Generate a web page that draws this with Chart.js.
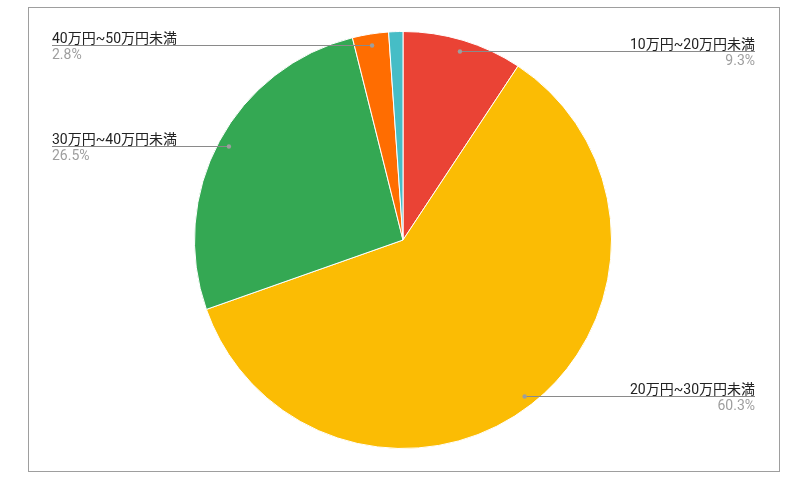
<!DOCTYPE html>
<html>
<head>
<meta charset="utf-8">
<script src="https://cdn.jsdelivr.net/npm/chart.js@4/dist/chart.umd.min.js"></script>
<style>
  html, body { margin: 0; padding: 0; background: #fff; }
  #wrap { width: 810px; height: 486px; position: relative; }
</style>
</head>
<body>
<div id="wrap"><canvas id="chart"></canvas></div>
<script>
const categories = ["10万円~20万円未満", "20万円~30万円未満", "30万円~40万円未満", "40万円~50万円未満", "50万円以上"];
const shares = [9.3, 60.3, 26.5, 2.8, 1.1];
const sliceColors = ["#ea4335", "#fbbc04", "#34a853", "#ff6d01", "#46bdc6"];

const fontFamily = "Roboto, Arial, 'Noto Sans CJK JP', sans-serif";

// frame + leader lines with labels, like the sheets export
const calloutPlugin = {
  id: "callouts",
  beforeDraw(chart) {
    const ctx = chart.ctx;
    ctx.save();
    ctx.strokeStyle = "#9e9e9e";
    ctx.lineWidth = 1;
    ctx.strokeRect(28.5, 7.5, 751, 464);
    ctx.restore();
  },
  afterDatasetsDraw(chart) {
    const ctx = chart.ctx;
    const meta = chart.getDatasetMeta(0);
    ctx.save();
    meta.data.forEach((arc, i) => {
      if (shares[i] < 2) return; // tiny slice has no label
      const p = arc.getProps(["startAngle", "endAngle", "outerRadius", "x", "y"], true);
      const mid = (p.startAngle + p.endAngle) / 2;
      const r = p.outerRadius * 0.948;
      const dx = p.x + Math.cos(mid) * r;
      const dy = p.y + Math.sin(mid) * r;
      const left = dx < p.x;
      const endX = left ? 52 : 755;
      const ly = Math.round(dy) + 0.5;

      ctx.strokeStyle = "#8a8a8a";
      ctx.lineWidth = 1;
      ctx.beginPath();
      ctx.moveTo(dx, ly);
      ctx.lineTo(endX, ly);
      ctx.stroke();

      ctx.fillStyle = "#9e9e9e";
      ctx.beginPath();
      ctx.arc(dx, ly, 2.2, 0, Math.PI * 2);
      ctx.fill();

      ctx.font = "14px " + fontFamily;
      ctx.textAlign = left ? "left" : "right";
      ctx.textBaseline = "alphabetic";
      ctx.fillStyle = "#222222";
      ctx.fillText(categories[i], endX, ly - 3);
      ctx.fillStyle = "#9e9e9e";
      ctx.textBaseline = "top";
      ctx.fillText(shares[i].toFixed(1) + "%", endX, ly + 3);
    });
    ctx.restore();
  }
};

new Chart(document.getElementById("chart"), {
  type: "pie",
  data: {
    labels: categories,
    datasets: [{
      data: shares,
      backgroundColor: sliceColors,
      borderColor: "#ffffff",
      borderWidth: 1
    }]
  },
  options: {
    responsive: true,
    maintainAspectRatio: false,
    animation: false,
    layout: { padding: { top: 31, bottom: 37, left: 194, right: 198 } },
    plugins: {
      legend: { display: false },
      tooltip: { enabled: false }
    }
  },
  plugins: [calloutPlugin]
});
</script>
</body>
</html>
